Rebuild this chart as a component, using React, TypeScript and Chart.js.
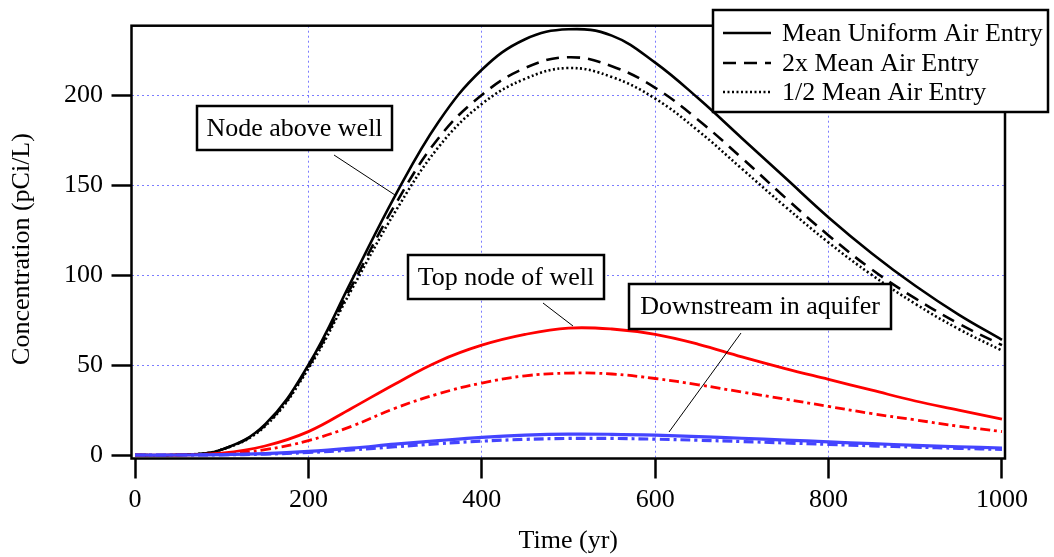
import React, { useEffect, useRef } from "react";
import { Chart, registerables } from "chart.js";

Chart.register(...registerables);

const TIME = [0, 50, 100, 150, 200, 250, 300, 350, 400, 450, 500, 550, 600, 650, 700, 750, 800, 850, 900, 950, 1000];

const MEAN_UNIFORM = [0, 0.1, 3, 17, 50, 97, 144, 185, 214, 231, 236.5, 233, 218, 198, 176, 154, 132, 112, 94, 78, 64];
const TWICE_MEAN = [0, 0.1, 3, 16.5, 49, 94, 139, 176, 200, 215, 221, 216, 204, 186, 165, 143, 122, 103, 87, 73, 61];
const HALF_MEAN = [0, 0.1, 3, 16, 48, 92, 135, 171, 195, 209, 215, 210, 198, 180, 159, 138, 118, 100, 84, 70, 58];

const TOP_NODE_MEAN = [0, 0, 1, 5, 13, 26, 39.5, 52, 61, 67, 70.5, 70, 67, 61.5, 54.5, 48, 42, 36, 30, 25, 20];
const TOP_NODE_ALT = [0, 0, 0.5, 3, 8, 16, 26, 34, 40, 44, 45.5, 45, 42.5, 39, 35, 31, 27, 23, 19.5, 16, 13];

const DOWNSTREAM_MEAN = [0, 0, 0.2, 0.8, 2, 3.8, 6, 8, 9.8, 11, 11.6, 11.5, 11, 10.2, 9.3, 8.3, 7.3, 6.3, 5.4, 4.6, 3.9];
const DOWNSTREAM_ALT = [0, 0, 0.1, 0.5, 1.4, 2.8, 4.6, 6.3, 7.7, 8.7, 9.2, 9.2, 8.8, 8.2, 7.5, 6.7, 5.9, 5.1, 4.4, 3.7, 3.1];

const X_TICKS = [0, 200, 400, 600, 800, 1000];
const Y_TICKS = [0, 50, 100, 150, 200];

const LEGEND_LABELS = ["Mean Uniform Air Entry", "2x Mean Air Entry", "1/2 Mean Air Entry"];
const ANNOTATION_LABELS = ["Node above well", "Top node of well", "Downstream in aquifer"];

const X_TITLE = "Time (yr)";
const Y_TITLE = "Concentration (pCi/L)";

const FONT = "'Liberation Serif', 'Times New Roman', Times, serif";
const BLUE = "rgb(68,68,255)";
const RED = "rgb(255,0,0)";
const GRID = "rgba(100,100,255,0.85)";

const DASHED = [13, 8];
const DOTTED = [2, 2.5];
const DASH_DOT = [10, 4, 3, 4];

const pts = (ys: number[]) => TIME.map((t, i) => ({ x: t, y: ys[i] }));

const framePlugin = {
  id: "frame",
  afterDatasetsDraw(chart: any) {
    const { ctx, chartArea: a } = chart;
    ctx.save();
    ctx.strokeStyle = "#000";
    ctx.lineWidth = 2.5;
    ctx.setLineDash([]);
    ctx.strokeRect(a.left, a.top, a.right - a.left, a.bottom - a.top);
    ctx.restore();
  },
};

const annotationPlugin = {
  id: "annots",
  afterDatasetsDraw(chart: any) {
    const { ctx } = chart;
    const boxes = [
      { label: ANNOTATION_LABELS[0], x: 197, y: 106, w: 195, h: 44, lead: [334, 155, 395, 195] },
      { label: ANNOTATION_LABELS[1], x: 408, y: 255, w: 196, h: 44, lead: [543, 303, 573, 326] },
      { label: ANNOTATION_LABELS[2], x: 629, y: 284, w: 262, h: 45, lead: [741, 333, 669, 432] },
    ];
    ctx.save();
    ctx.setLineDash([]);
    for (const b of boxes) {
      ctx.strokeStyle = "#000";
      ctx.lineWidth = 1;
      ctx.beginPath();
      ctx.moveTo(b.lead[0], b.lead[1]);
      ctx.lineTo(b.lead[2], b.lead[3]);
      ctx.stroke();
      ctx.fillStyle = "#fff";
      ctx.fillRect(b.x, b.y, b.w, b.h);
      ctx.lineWidth = 2.5;
      ctx.strokeRect(b.x, b.y, b.w, b.h);
      ctx.fillStyle = "#000";
      ctx.font = `26px ${FONT}`;
      ctx.textAlign = "center";
      ctx.textBaseline = "middle";
      ctx.fillText(b.label, b.x + b.w / 2, b.y + b.h / 2 + 1);
    }
    ctx.restore();
  },
};

const legendPlugin = {
  id: "customLegend",
  afterDraw(chart: any) {
    const { ctx } = chart;
    const bx = 713, by = 10, bw = 335, bh = 102;
    ctx.save();
    ctx.fillStyle = "#fff";
    ctx.fillRect(bx, by, bw, bh);
    ctx.strokeStyle = "#000";
    ctx.lineWidth = 2.5;
    ctx.setLineDash([]);
    ctx.strokeRect(bx, by, bw, bh);
    const rows = [33, 63, 92];
    const dashes = [[], DASHED, DOTTED];
    ctx.font = `26px ${FONT}`;
    ctx.textAlign = "left";
    ctx.textBaseline = "middle";
    LEGEND_LABELS.forEach((lab, i) => {
      ctx.setLineDash(dashes[i]);
      ctx.lineWidth = 2.6;
      ctx.beginPath();
      ctx.moveTo(723, rows[i]);
      ctx.lineTo(771, rows[i]);
      ctx.stroke();
      ctx.setLineDash([]);
      ctx.fillStyle = "#000";
      ctx.fillText(lab, 782, rows[i] + 1);
    });
    ctx.restore();
  },
};

const yTitlePlugin = {
  id: "yTitle",
  afterDraw(chart: any) {
    const { ctx } = chart;
    ctx.save();
    ctx.translate(22, 249);
    ctx.rotate(-Math.PI / 2);
    ctx.font = `26px ${FONT}`;
    ctx.fillStyle = "#000";
    ctx.textAlign = "center";
    ctx.textBaseline = "middle";
    ctx.fillText(Y_TITLE, 0, 0);
    ctx.restore();
  },
};

export default function App() {
  const ref = useRef<HTMLCanvasElement | null>(null);
  useEffect(() => {
    if (!ref.current) return;
    const line = (data: number[], color: string, width: number, dash: number[]) => ({
      data: pts(data),
      borderColor: color,
      backgroundColor: color,
      borderWidth: width,
      borderDash: dash,
      pointRadius: 0,
      fill: false,
      tension: 0.4,
    });
    const gridColor = (c: any) => {
      const v = c.tick ? c.tick.value : null;
      return v === 0 || v === 1000 ? "rgba(0,0,0,0)" : GRID;
    };
    const chart = new Chart(ref.current, {
      type: "line",
      data: {
        datasets: [
          line(DOWNSTREAM_ALT, BLUE, 3.2, DASH_DOT),
          line(DOWNSTREAM_MEAN, BLUE, 3.2, []),
          line(TOP_NODE_ALT, RED, 2.8, DASH_DOT),
          line(TOP_NODE_MEAN, RED, 2.8, []),
          line(HALF_MEAN, "#000", 2.6, DOTTED),
          line(TWICE_MEAN, "#000", 2.6, DASHED),
          line(MEAN_UNIFORM, "#000", 2.6, []),
        ],
      },
      options: {
        animation: false,
        responsive: false,
        devicePixelRatio: 1,
        layout: { padding: { top: 25.7, right: 49, left: 0, bottom: 0 } },
        plugins: { legend: { display: false }, tooltip: { enabled: false } },
        scales: {
          x: {
            type: "linear",
            min: -4.04,
            max: 1003.5,
            afterBuildTicks: (s: any) => {
              s.ticks = X_TICKS.map((v) => ({ value: v }));
            },
            afterFit: (s: any) => {
              s.height = 98.5;
            },
            ticks: {
              font: { family: FONT, size: 26 },
              color: "#000",
              padding: 6,
              maxRotation: 0,
              autoSkip: false,
              callback: (v: any) => String(v),
            },
            grid: { color: gridColor, lineWidth: 1, tickLength: 20, tickColor: "#000", tickWidth: 2.5 },
            border: { display: false, dash: [2, 3] },
            title: { display: true, text: X_TITLE, font: { family: FONT, size: 26 }, color: "#000", padding: { top: 0, bottom: 0 } },
          },
          y: {
            type: "linear",
            min: -1.94,
            max: 238.5,
            afterBuildTicks: (s: any) => {
              s.ticks = Y_TICKS.map((v) => ({ value: v }));
            },
            afterFit: (s: any) => {
              s.width = 131.5;
            },
            ticks: { font: { family: FONT, size: 26 }, color: "#000", padding: 8.5, autoSkip: false, callback: (v: any) => String(v) },
            grid: { color: gridColor, lineWidth: 1, tickLength: 20, tickColor: "#000", tickWidth: 2.5 },
            border: { display: false, dash: [2, 3] },
            title: { display: false },
          },
        },
      },
      plugins: [framePlugin, annotationPlugin, legendPlugin, yTitlePlugin],
    } as any);
    return () => chart.destroy();
  }, []);
  return (
    <div style={{ position: "fixed", left: 0, top: 0, width: 1054, height: 557, background: "#fff" }}>
      <canvas ref={ref} width={1054} height={557} style={{ width: 1054, height: 557, display: "block" }} />
    </div>
  );
}
